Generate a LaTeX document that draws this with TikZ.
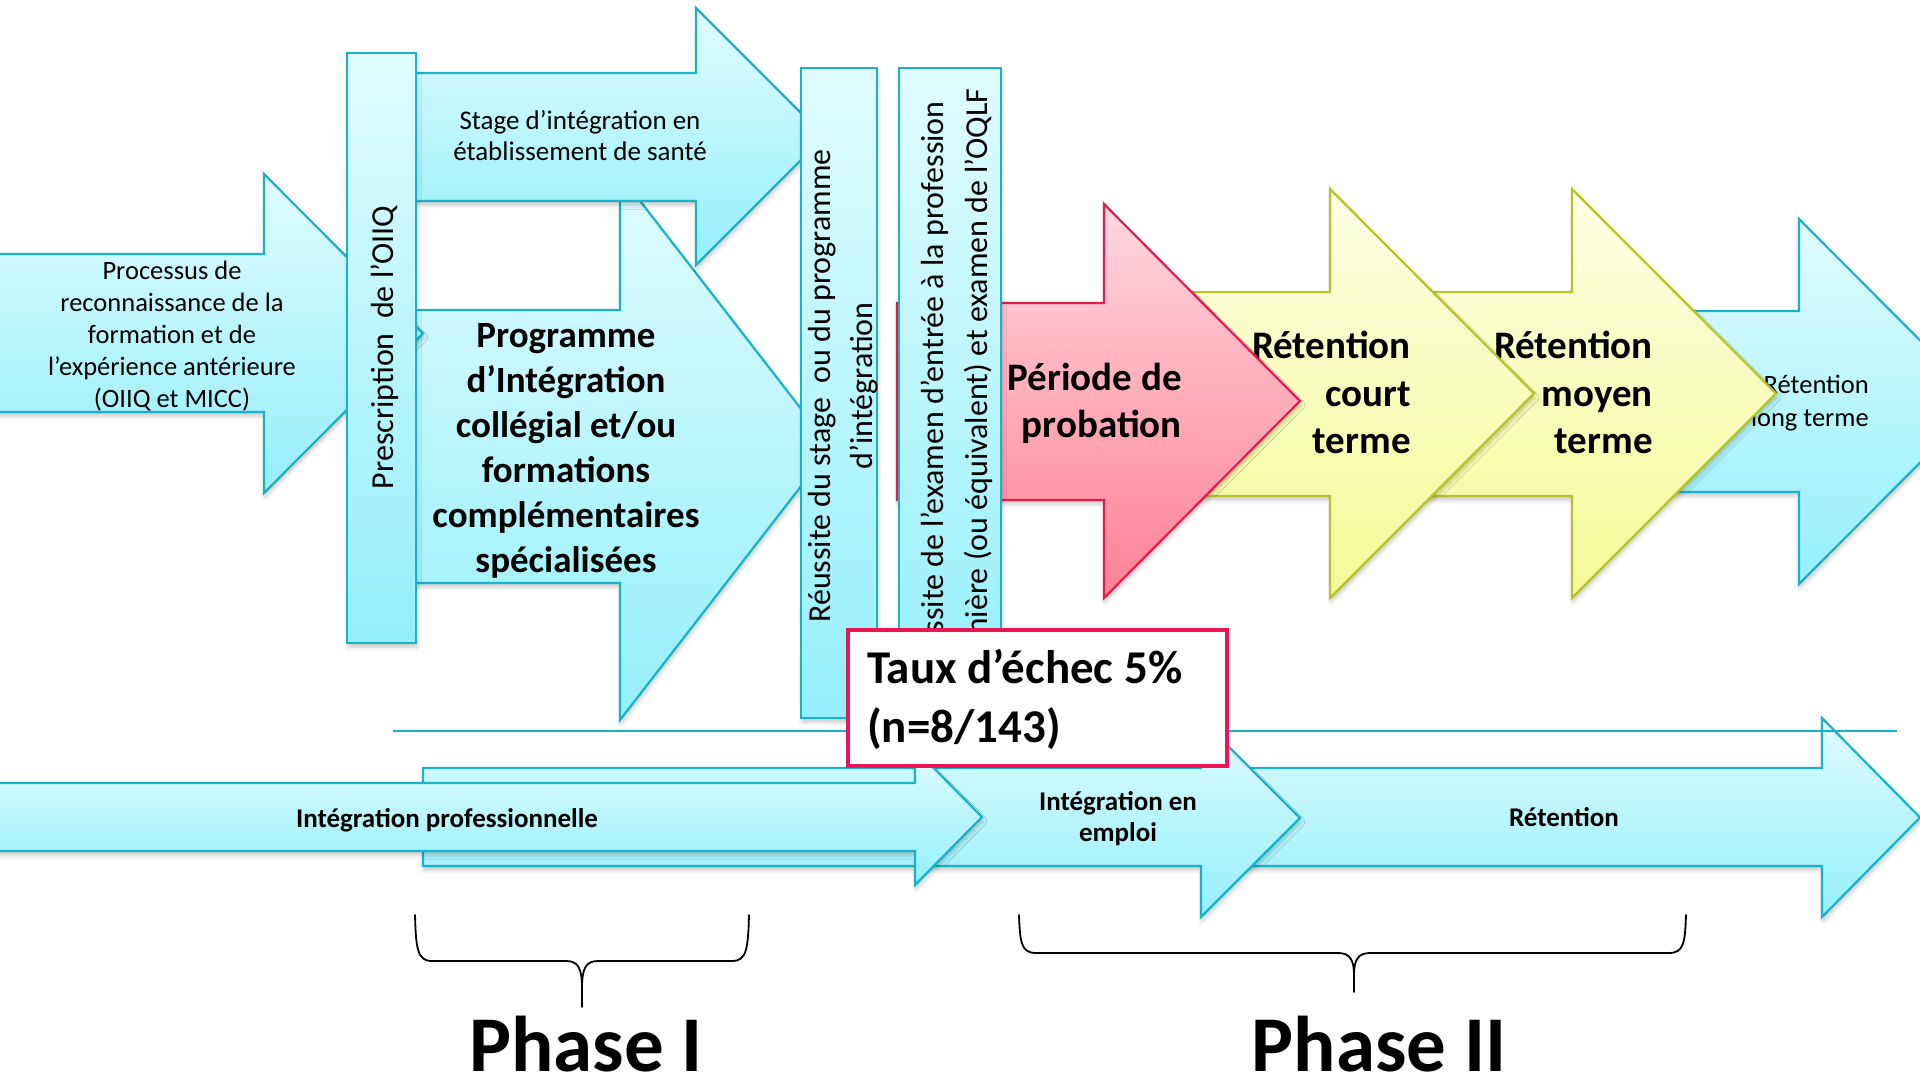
\documentclass[tikz,border=0pt]{standalone}
\usepackage{fontspec}
\setmainfont{Carlito}
\usetikzlibrary{shadows.blur}

\definecolor{aquaTop}{RGB}{224,252,255}
\definecolor{aquaBot}{RGB}{148,239,250}
\definecolor{aquaLine}{RGB}{26,178,200}
\definecolor{roseTop}{RGB}{255,216,223}
\definecolor{roseBot}{RGB}{255,128,148}
\definecolor{roseLine}{RGB}{230,28,78}
\definecolor{lemonTop}{RGB}{252,255,228}
\definecolor{lemonBot}{RGB}{244,250,150}
\definecolor{lemonLine}{RGB}{184,194,44}
\definecolor{alertLine}{RGB}{234,22,82}

\tikzset{
  softshadow/.style={blur shadow={shadow xshift=1pt, shadow yshift=-4pt,
      shadow blur radius=4pt, shadow opacity=22}},
  aquashape/.style={top color=aquaTop, bottom color=aquaBot, draw=aquaLine,
      line width=2.2pt, softshadow},
  roseshape/.style={top color=roseTop, bottom color=roseBot, draw=roseLine,
      line width=2.2pt, softshadow},
  lemonshape/.style={top color=lemonTop, bottom color=lemonBot, draw=lemonLine,
      line width=2.2pt, softshadow},
  lbl/.style={inner sep=0pt, text=black},
  regA/.style={lbl, font=\fontsize{26.5}{31}\selectfont},
  regS/.style={lbl, font=\fontsize{27}{31}\selectfont},
  regB/.style={lbl, font=\fontsize{32}{38}\selectfont},
  boldA/.style={lbl, font=\fontsize{27}{31}\selectfont\bfseries},
  boldB/.style={lbl, font=\fontsize{37}{45}\selectfont\bfseries},
  boldC/.style={lbl, font=\fontsize{39}{48}\selectfont\bfseries},
  boldD/.style={lbl, font=\fontsize{47}{60}\selectfont\bfseries},
  boldE/.style={lbl, font=\fontsize{79}{90}\selectfont\bfseries},
  bracket/.style={draw=black, line width=1.8pt, line cap=round, line join=round},
}

\begin{document}
\begin{tikzpicture}[x=1pt, y=-1pt]
\useasboundingbox (0,0) rectangle (1920,1081);

% ---------- Phase I: upper chain ----------
% Programme d'integration
\path[aquashape] (400,310) -- (620,310) -- (620,175) -- (831,447.5)
  -- (620,720) -- (620,583) -- (400,583) -- cycle;
\node[boldB, anchor=base] (prog1) at (566,347) {Programme};
\node[boldB, anchor=base] (prog2) at (566,392) {d’Intégration};
\node[boldB, anchor=base] (prog3) at (566,437) {collégial et/ou};
\node[boldB, anchor=base] (prog4) at (566,482) {formations};
\node[boldB, anchor=base] (prog5) at (566,527) {complémentaires};
\node[boldB, anchor=base] (prog6) at (566,572) {spécialisées};

% Stage d'integration
\path[aquashape] (400,73) -- (696,73) -- (696,8) -- (824.5,136.5)
  -- (696,265) -- (696,201) -- (400,201) -- cycle;
\node[regS, anchor=base] (stage1) at (580,129) {Stage d’intégration en};
\node[regS, anchor=base] (stage2) at (580,160) {établissement de santé};

% Processus de reconnaissance
\path[aquashape] (-5,254) -- (264,254) -- (264,174) -- (423,333.5)
  -- (264,493) -- (264,412) -- (-5,412) -- cycle;
\node[regA, anchor=base] (proc1) at (172,279) {Processus de};
\node[regA, anchor=base] (proc2) at (172,311) {reconnaissance de la};
\node[regA, anchor=base] (proc3) at (172,343) {formation et de};
\node[regA, anchor=base] (proc4) at (172,375) {l’expérience antérieure};
\node[regA, anchor=base] (proc5) at (172,407) {(OIIQ et MICC)};

% Prescription bar
\path[aquashape] (347,53) rectangle (416,643);
\node[regB, rotate=90, anchor=base] (presc) at (393,347.5) {Prescription\ \ de l’OIIQ};

% Reussite bar
\path[aquashape] (801,68) rectangle (877,718);
\node[regB, rotate=90, anchor=base] (reus1) at (830,386) {Réussite du stage\ \ ou du programme};
\node[regB, rotate=90, anchor=base] (reus2) at (872,386) {d’intégration};

% ---------- Phase II: upper chain ----------
\path[aquashape] (1580,311) -- (1799,311) -- (1799,219) -- (1981,401.5)
  -- (1799,584) -- (1799,492) -- (1580,492) -- cycle;
\node[regA, anchor=base east] (long1) at (1869,393) {Rétention};
\node[regA, anchor=base east] (long2) at (1869,426) {long terme};

\path[lemonshape] (1340,292) -- (1572,292) -- (1572,189) -- (1776,393.5)
  -- (1572,598) -- (1572,496) -- (1340,496) -- cycle;
\node[boldC, anchor=base east] (moy1) at (1653,358) {Rétention};
\node[boldC, anchor=base east] (moy2) at (1653,406) {moyen};
\node[boldC, anchor=base east] (moy3) at (1653,453) {terme};

\path[lemonshape] (1110,292) -- (1330,292) -- (1330,189) -- (1534,393.5)
  -- (1330,598) -- (1330,496) -- (1110,496) -- cycle;
\node[boldC, anchor=base east] (court1) at (1411,358) {Rétention};
\node[boldC, anchor=base east] (court2) at (1411,406) {court};
\node[boldC, anchor=base east] (court3) at (1411,453) {terme};

\path[roseshape] (897,303) -- (1104,303) -- (1104,204) -- (1300,401)
  -- (1104,598) -- (1104,500) -- (897,500) -- cycle;
\node[boldC, anchor=base east] (prob1) at (1182,390) {Période de};
\node[boldC, anchor=base east] (prob2) at (1182,437) {probation};

% Examen bar
\path[aquashape] (899,68) rectangle (1001,718);
\node[regB, rotate=90, anchor=base] (exam1) at (943,392) {Réussite de l’examen d’entrée à la profession};
\node[regB, rotate=90, anchor=base] (exam2) at (987,392) {infirmière (ou équivalent) et examen de l’OQLF};

% ---------- lower chain ----------
\path[aquashape] (1210,768) -- (1822,768) -- (1822,718) -- (1920,817.5)
  -- (1822,917) -- (1822,866) -- (1210,866) -- cycle;
\node[boldA, anchor=base] (ret) at (1564,826) {Rétention};

\path[aquashape] (423,768) -- (1201,768) -- (1201,719) -- (1300,818)
  -- (1201,917) -- (1201,866) -- (423,866) -- cycle;
\node[boldA, anchor=base] (emp1) at (1118,810) {Intégration en};
\node[boldA, anchor=base] (emp2) at (1118,841) {emploi};

\path[aquashape] (-5,783) -- (915,783) -- (915,749) -- (982,817)
  -- (915,885) -- (915,851) -- (-5,851) -- cycle;
\node[boldA, anchor=base] (prof) at (447,827) {Intégration professionnelle};

% separator line
\coordinate (sepL) at (393,731);
\coordinate (sepR) at (1897,731);
\draw[aquaLine, line width=2.5pt] (sepL) -- (sepR);

% failure rate box
\node[draw=alertLine, line width=4pt, fill=white, minimum width=379pt,
  minimum height=136pt, anchor=north west, inner sep=0pt] (taux) at (846,628) {};
\node[boldD, anchor=base west] (taux1) at (867,683) {Taux d’échec 5\%};
\node[boldD, anchor=base west] (taux2) at (867,742) {(n=8/143)};

% braces and phase labels
\draw[bracket] (415,915) .. controls (416,948) and (417,961) .. (432,961)
  -- (566,961) .. controls (578,961) and (582,968) .. (582,988) -- (582,1007);
\draw[bracket] (749,915) .. controls (748,948) and (747,961) .. (732,961)
  -- (598,961) .. controls (586,961) and (582,968) .. (582,988);
\node[boldE, anchor=base] (ph1) at (586,1071) {Phase I};

\draw[bracket] (1019,915) .. controls (1020,942) and (1021,953) .. (1036,953)
  -- (1338,953) .. controls (1350,953) and (1354,960) .. (1354,975) -- (1354,992);
\draw[bracket] (1686,915) .. controls (1685,942) and (1684,953) .. (1669,953)
  -- (1370,953) .. controls (1358,953) and (1354,960) .. (1354,975);
\node[boldE, anchor=base] (ph2) at (1379,1071) {Phase II};

\end{tikzpicture}
\end{document}
